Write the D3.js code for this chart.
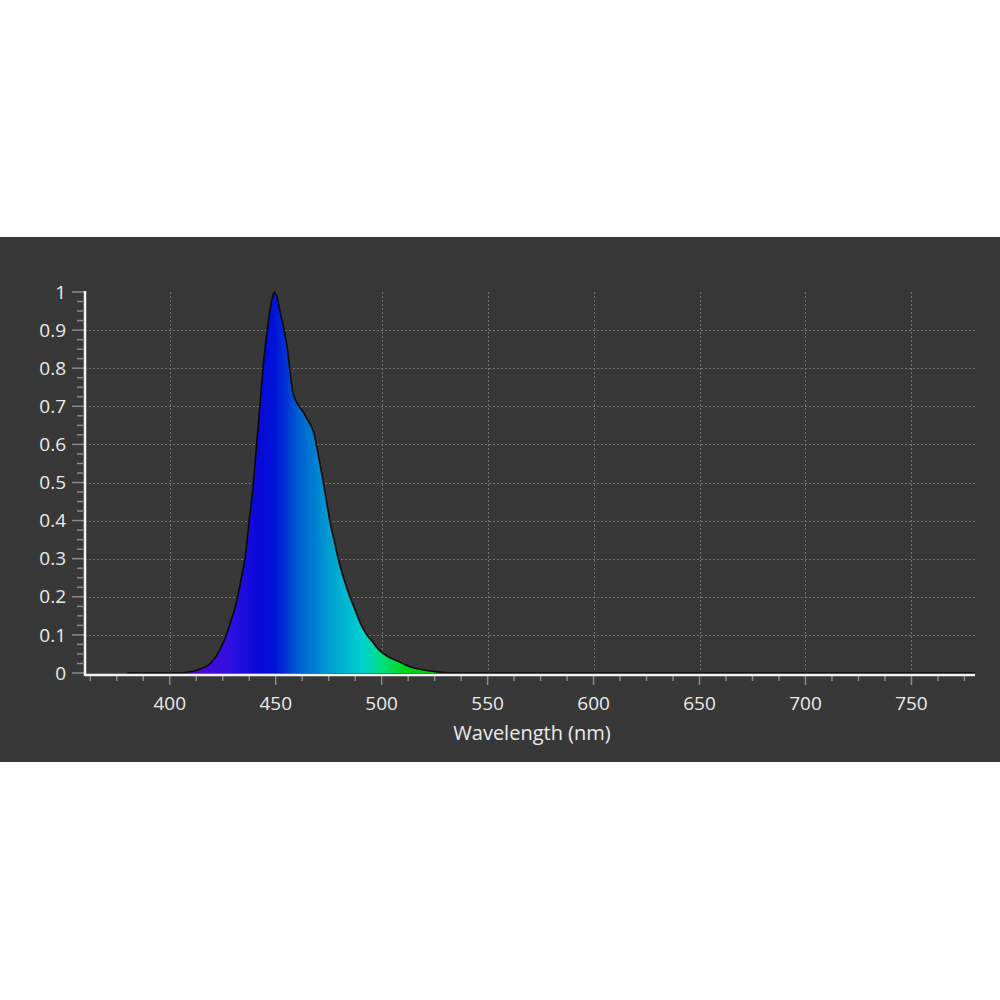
<!DOCTYPE html>
<html>
<head>
<meta charset="utf-8">
<script src="https://cdn.jsdelivr.net/npm/d3@7"></script>
<style>
  body { margin: 0; background: #fff; }
  svg { display: block; }
</style>
</head>
<body>
<div id="chart"></div>
<script>
// spectrum samples (nm, relative intensity)
const wavelengths = [380, 405, 408, 412, 415, 418, 420, 422, 424, 426, 427, 429, 431, 432, 434,
  435.5, 437.5, 439.5, 441, 442.5, 444, 446, 447.5, 449, 449.5, 450.5, 452, 454, 455.5, 457,
  458, 459.5, 461, 463, 465, 467, 468, 469, 470.5, 472.5, 474, 475.5, 477.5, 479.5, 482, 485,
  487.5, 490, 493, 496, 498, 501, 504, 508, 511, 514, 518, 522, 526, 530, 533, 780];
const intensity = [0, 0, 0.002, 0.006, 0.012, 0.02, 0.03, 0.045, 0.065, 0.09, 0.105, 0.14, 0.175, 0.2, 0.255,
  0.3, 0.4, 0.5, 0.6, 0.7, 0.8, 0.9, 0.96, 0.995, 1.0, 0.99, 0.95, 0.9, 0.85, 0.78,
  0.74, 0.715, 0.7, 0.685, 0.665, 0.645, 0.63, 0.605, 0.56, 0.5, 0.45, 0.4, 0.35, 0.3, 0.25, 0.2,
  0.165, 0.13, 0.1, 0.08, 0.065, 0.05, 0.04, 0.03, 0.022, 0.015, 0.01, 0.006, 0.003, 0.001, 0, 0];

const xTicks = [400, 450, 500, 550, 600, 650, 700, 750];
const yTicks = [0, 0.1, 0.2, 0.3, 0.4, 0.5, 0.6, 0.7, 0.8, 0.9, 1];
const xTitle = "Wavelength (nm)";

// colour of light along the spectrum
const specNm = [400, 415, 428, 442, 450, 461, 476, 491, 500, 510, 530];
const specColor = ["#5a00b0", "#4a08d8", "#3010e0", "#0808d8", "#0014d8", "#0060d0", "#00a0d0",
  "#00d0d0", "#00e080", "#00d820", "#10c000"];

const dims = { width: 1000, height: 1000 };
const panel = { top: 237, height: 525 };
const plot = { left: 85, right: 975, top: 292, bottom: 673 };

const svg = d3.select("#chart")
  .append("svg")
  .attr("width", dims.width)
  .attr("height", dims.height);

svg.append("rect")
  .attr("x", 0)
  .attr("y", panel.top)
  .attr("width", dims.width)
  .attr("height", panel.height)
  .attr("fill", "#383838");

const x = d3.scaleLinear().domain([360, 780]).range([plot.left, plot.right]);
const y = d3.scaleLinear().domain([0, 1]).range([plot.bottom, plot.top]);

// gradient
const grad = svg.append("defs")
  .append("linearGradient")
  .attr("id", "spec")
  .attr("gradientUnits", "userSpaceOnUse")
  .attr("x1", x(specNm[0]))
  .attr("x2", x(specNm[specNm.length - 1]))
  .attr("y1", 0)
  .attr("y2", 0);
grad.selectAll("stop")
  .data(specNm)
  .enter()
  .append("stop")
  .attr("offset", d => (d - specNm[0]) / (specNm[specNm.length - 1] - specNm[0]))
  .attr("stop-color", (d, i) => specColor[i]);

// grid
const grid = svg.append("g").attr("stroke", "#727272").attr("stroke-width", 1).attr("stroke-dasharray", "2,2");
grid.selectAll(".vx")
  .data(xTicks)
  .enter()
  .append("line")
  .attr("x1", d => Math.round(x(d)) + 0.5)
  .attr("x2", d => Math.round(x(d)) + 0.5)
  .attr("y1", plot.top)
  .attr("y2", plot.bottom);
grid.selectAll(".hy")
  .data(yTicks.filter(d => d > 0 && d < 1))
  .enter()
  .append("line")
  .attr("x1", plot.left)
  .attr("x2", plot.right)
  .attr("y1", d => Math.round(y(d)) + 0.5)
  .attr("y2", d => Math.round(y(d)) + 0.5);

// spectrum
const pts = wavelengths.map((w, i) => [w, intensity[i]]);
const area = d3.area().x(d => x(d[0])).y0(y(0)).y1(d => y(d[1])).curve(d3.curveMonotoneX);
const line = d3.line().x(d => x(d[0])).y(d => y(d[1])).curve(d3.curveMonotoneX);

svg.append("path")
  .datum(pts)
  .attr("d", area)
  .attr("fill", "url(#spec)");
svg.append("path")
  .datum(pts)
  .attr("d", line)
  .attr("fill", "none")
  .attr("stroke", "#0a0a0a")
  .attr("stroke-width", 1.6);

// axes
const xMinor = d3.range(362.5, 781, 12.5).filter(d => d % 50 !== 0);
const yMinor = d3.range(0, 1.001, 0.025).filter(d => Math.abs(d * 10 - Math.round(d * 10)) > 0.01);

const axis = svg.append("g").attr("stroke", "#8a8a8a").attr("stroke-width", 1.5);
axis.selectAll(".xt")
  .data(xTicks)
  .enter()
  .append("line")
  .attr("x1", d => x(d)).attr("x2", d => x(d))
  .attr("y1", plot.bottom + 2).attr("y2", plot.bottom + 12);
axis.selectAll(".xm")
  .data(xMinor)
  .enter()
  .append("line")
  .attr("x1", d => x(d)).attr("x2", d => x(d))
  .attr("y1", plot.bottom + 2).attr("y2", plot.bottom + 8);
axis.selectAll(".yt")
  .data(yTicks)
  .enter()
  .append("line")
  .attr("x1", plot.left - 13).attr("x2", plot.left)
  .attr("y1", d => y(d)).attr("y2", d => y(d));
axis.selectAll(".ym")
  .data(yMinor)
  .enter()
  .append("line")
  .attr("x1", plot.left - 8).attr("x2", plot.left - 2)
  .attr("y1", d => y(d)).attr("y2", d => y(d));

svg.append("line")
  .attr("x1", plot.left).attr("x2", plot.right)
  .attr("y1", plot.bottom + 2).attr("y2", plot.bottom + 2)
  .attr("stroke", "#f4f4f4").attr("stroke-width", 2.5);
svg.append("line")
  .attr("x1", plot.left).attr("x2", plot.left)
  .attr("y1", plot.top - 1).attr("y2", plot.bottom + 3)
  .attr("stroke", "#f4f4f4").attr("stroke-width", 2.5);

// labels
const labels = svg.append("g")
  .attr("font-family", "'Open Sans', sans-serif")
  .attr("font-size", 19)
  .attr("fill", "#ebebeb");
labels.selectAll(".xl")
  .data(xTicks)
  .enter()
  .append("text")
  .attr("x", d => x(d))
  .attr("y", 703)
  .attr("dy", "0.35em")
  .attr("text-anchor", "middle")
  .text(d => d);
labels.selectAll(".yl")
  .data(yTicks)
  .enter()
  .append("text")
  .attr("x", 66)
  .attr("y", d => y(d))
  .attr("dy", "0.35em")
  .attr("text-anchor", "end")
  .text(d => d);
labels.append("text")
  .attr("x", (plot.left + plot.right) / 2 + 2)
  .attr("y", 733)
  .attr("dy", "0.35em")
  .attr("font-size", 20)
  .attr("text-anchor", "middle")
  .text(xTitle);
</script>
</body>
</html>
